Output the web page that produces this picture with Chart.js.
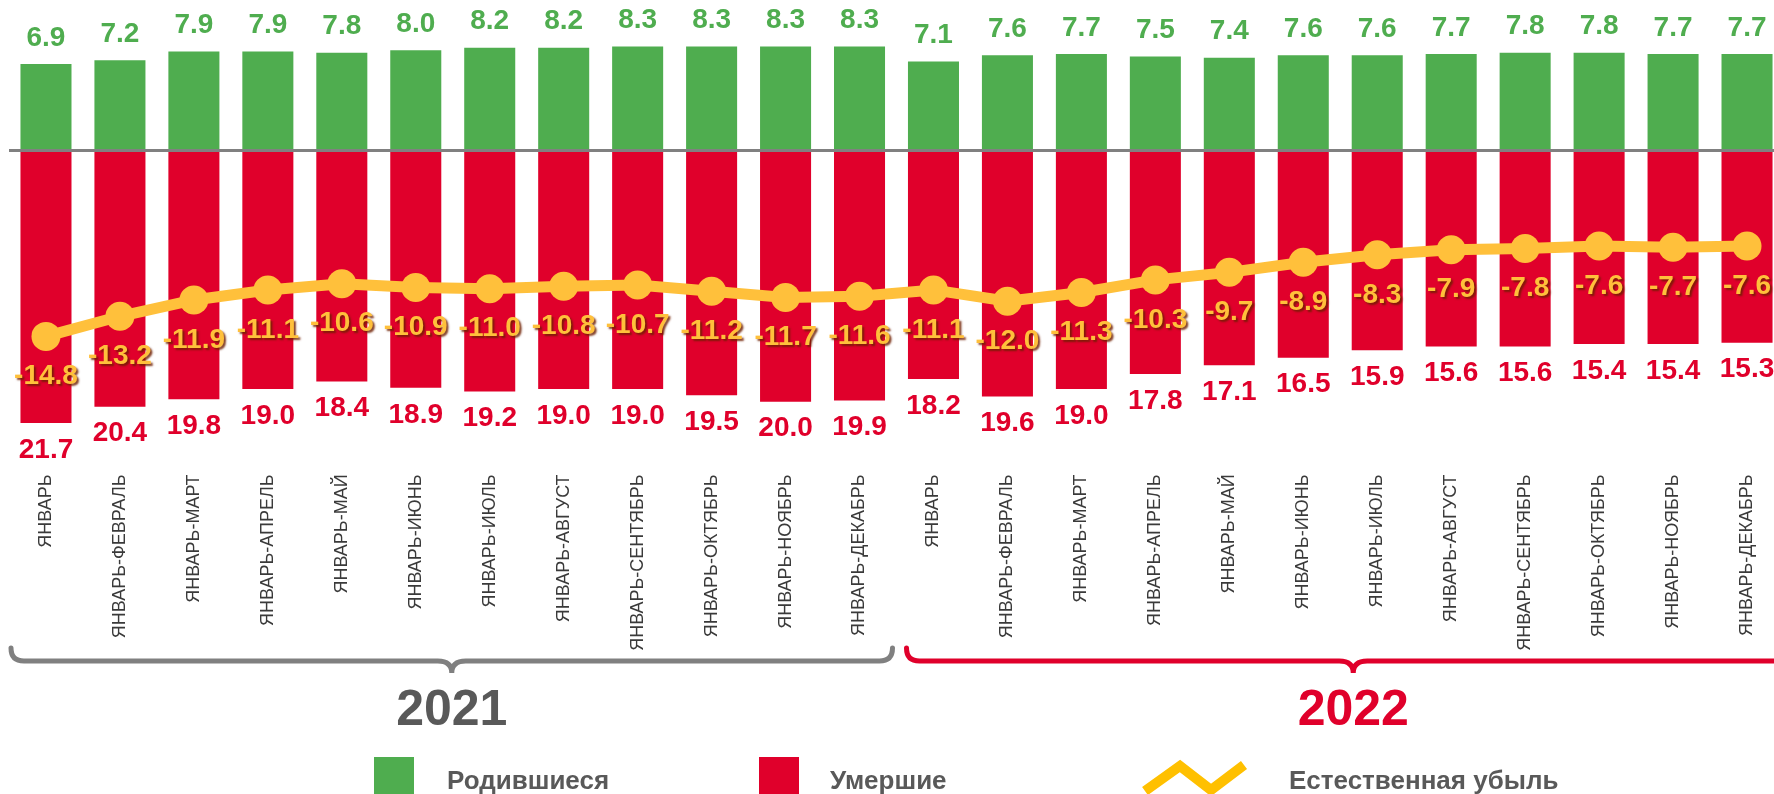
<!DOCTYPE html>
<html>
<head>
<meta charset="utf-8">
<script src="https://cdn.jsdelivr.net/npm/chart.js@4"></script>
<style>
  html, body { margin: 0; padding: 0; background: #fff; overflow: hidden; }
  #wrap { position: absolute; left: 0; top: 0; width: 1784px; height: 794px; }
</style>
</head>
<body>
<div id="wrap"><canvas id="demography" width="1784" height="794"></canvas></div>
<script>
var months = ["ЯНВАРЬ", "ЯНВАРЬ-ФЕВРАЛЬ", "ЯНВАРЬ-МАРТ", "ЯНВАРЬ-АПРЕЛЬ", "ЯНВАРЬ-МАЙ", "ЯНВАРЬ-ИЮНЬ",
              "ЯНВАРЬ-ИЮЛЬ", "ЯНВАРЬ-АВГУСТ", "ЯНВАРЬ-СЕНТЯБРЬ", "ЯНВАРЬ-ОКТЯБРЬ", "ЯНВАРЬ-НОЯБРЬ", "ЯНВАРЬ-ДЕКАБРЬ"];
var years = ["2021", "2022"];
var labels = months.concat(months);

var births = [6.9, 7.2, 7.9, 7.9, 7.8, 8.0, 8.2, 8.2, 8.3, 8.3, 8.3, 8.3,
              7.1, 7.6, 7.7, 7.5, 7.4, 7.6, 7.6, 7.7, 7.8, 7.8, 7.7, 7.7];
var deaths = [21.7, 20.4, 19.8, 19.0, 18.4, 18.9, 19.2, 19.0, 19.0, 19.5, 20.0, 19.9,
              18.2, 19.6, 19.0, 17.8, 17.1, 16.5, 15.9, 15.6, 15.6, 15.4, 15.4, 15.3];
var decrease = [-14.8, -13.2, -11.9, -11.1, -10.6, -10.9, -11.0, -10.8, -10.7, -11.2, -11.7, -11.6,
                -11.1, -12.0, -11.3, -10.3, -9.7, -8.9, -8.3, -7.9, -7.8, -7.6, -7.7, -7.6];

var legendNames = ["Родившиеся", "Умершие", "Естественная убыль"];

var GREEN = "rgb(79,173,79)", RED = "rgb(224,0,43)", YELLOW = "rgb(255,192,59)", GREY = "#595959";
var FONT = "'Liberation Sans', Arial, sans-serif";

function fmt(v) { return v.toFixed(1); }

// подписи, скобки годов, легенда
var decor = {
    id: 'decor',
    afterDatasetsDraw: function(chart) {
        var ctx = chart.ctx, xs = chart.scales.x, ys = chart.scales.y, area = chart.chartArea;
        ctx.save();

        // нулевая линия
        var y0 = ys.getPixelForValue(0);
        ctx.strokeStyle = "#808080";
        ctx.lineWidth = 3;
        ctx.beginPath();
        ctx.moveTo(area.left, y0);
        ctx.lineTo(area.right, y0);
        ctx.stroke();

        ctx.textAlign = "center";
        ctx.textBaseline = "middle";
        ctx.font = "bold 28px " + FONT;

        chart.getDatasetMeta(1).data.forEach(function(el, i) {
            ctx.fillStyle = GREEN;
            ctx.fillText(fmt(births[i]), el.x, el.y - 26);
        });
        chart.getDatasetMeta(2).data.forEach(function(el, i) {
            ctx.fillStyle = RED;
            ctx.fillText(fmt(deaths[i]), el.x, el.y + 27);
        });

        ctx.save();
        ctx.shadowColor = "rgba(110,30,0,0.85)";
        ctx.shadowOffsetX = 2;
        ctx.shadowOffsetY = 2;
        ctx.shadowBlur = 2;
        chart.getDatasetMeta(0).data.forEach(function(el, i) {
            ctx.fillStyle = YELLOW;
            ctx.fillText(fmt(decrease[i]), el.x, el.y + 40);
        });
        ctx.restore();

        // скобки
        var step = xs.getPixelForValue(1) - xs.getPixelForValue(0);
        var border = xs.getPixelForValue(11) + step / 2;
        var groups = [
            {from: area.left + 2, to: border - 4, color: "#808080", text: years[0], textColor: GREY},
            {from: border + 10, to: area.right + 16, color: RED, text: years[1], textColor: RED}
        ];
        groups.forEach(function(g) {
            var mid = (g.from + g.to) / 2, yl = 661;
            ctx.strokeStyle = g.color;
            ctx.lineWidth = 5;
            ctx.lineCap = "round";
            ctx.beginPath();
            ctx.moveTo(g.from, 648);
            ctx.quadraticCurveTo(g.from, yl, g.from + 13, yl);
            ctx.lineTo(mid - 14, yl);
            ctx.quadraticCurveTo(mid, yl, mid, 673);
            ctx.quadraticCurveTo(mid, yl, mid + 14, yl);
            ctx.lineTo(g.to - 13, yl);
            ctx.quadraticCurveTo(g.to, yl, g.to, 648);
            ctx.stroke();

            ctx.fillStyle = g.textColor;
            ctx.font = "bold 50px " + FONT;
            ctx.fillText(g.text, mid, 711);
        });

        // легенда
        ctx.textAlign = "left";
        ctx.font = "bold 26px " + FONT;
        ctx.fillStyle = GREEN;
        ctx.fillRect(374, 757, 40, 40);
        ctx.fillStyle = RED;
        ctx.fillRect(759, 757, 40, 40);

        ctx.strokeStyle = "#FFC000";
        ctx.lineWidth = 10;
        ctx.lineCap = "butt";
        ctx.lineJoin = "miter";
        ctx.beginPath();
        ctx.moveTo(1145, 791);
        ctx.lineTo(1180, 766);
        ctx.lineTo(1211, 790);
        ctx.lineTo(1244, 765);
        ctx.stroke();

        ctx.fillStyle = GREY;
        ctx.fillText(legendNames[0], 447, 782);
        ctx.fillText(legendNames[1], 830, 782);
        ctx.fillText(legendNames[2], 1289, 782);

        ctx.restore();
    }
};

var chart1 = document.getElementById("demography");
var demography = new Chart(chart1, {
    type: 'bar',
    data: {
        labels: labels,
        datasets: [{
            type: 'line',
            label: legendNames[2],
            data: decrease,
            order: 0,
            borderColor: YELLOW,
            backgroundColor: YELLOW,
            borderWidth: 11,
            tension: 0,
            pointRadius: 14.5,
            pointBorderWidth: 0,
            pointBackgroundColor: YELLOW,
            clip: false
        }, {
            label: legendNames[0],
            data: births,
            order: 1,
            grouped: false,
            backgroundColor: GREEN,
            barPercentage: 0.69,
            categoryPercentage: 1
        }, {
            label: legendNames[1],
            data: deaths.map(function(v) { return -v; }),
            order: 1,
            grouped: false,
            backgroundColor: RED,
            barPercentage: 0.69,
            categoryPercentage: 1
        }]
    },
    options: {
        responsive: false,
        animation: false,
        devicePixelRatio: 1,
        layout: { autoPadding: false, padding: { left: 9, right: 0, top: 0, bottom: 0 } },
        plugins: { legend: { display: false }, tooltip: { enabled: false } },
        scales: {
            x: {
                grid: { display: false, drawTicks: false },
                border: { display: false },
                ticks: {
                    autoSkip: false,
                    maxRotation: 90,
                    minRotation: 90,
                    padding: 10,
                    color: "#3a3a3a",
                    font: { family: FONT, size: 18 }
                },
                afterFit: function(scale) { scale.height = 329.6; }
            },
            y: {
                display: false,
                min: -25,
                max: 12
            }
        }
    },
    plugins: [decor]
});
</script>
</body>
</html>
